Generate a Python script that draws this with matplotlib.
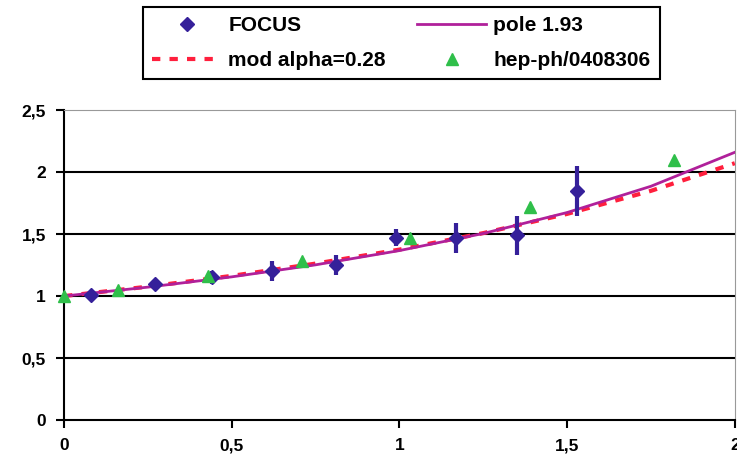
import matplotlib
import matplotlib.pyplot as plt
from matplotlib.lines import Line2D

matplotlib.use("Agg")

# FOCUS data points (q^2, f(q^2)/f(0)) with errors
focus_x = [0.08, 0.27, 0.44, 0.62, 0.81, 0.99, 1.17, 1.35, 1.53]
focus_y = [1.01, 1.10, 1.15, 1.20, 1.25, 1.47, 1.47, 1.49, 1.85]
focus_err = [0.02, 0.03, 0.05, 0.08, 0.08, 0.07, 0.12, 0.16, 0.20]

# hep-ph/0408306 points
hep_x = [0.0, 0.16, 0.43, 0.71, 1.03, 1.39, 1.82]
hep_y = [1.00, 1.05, 1.16, 1.28, 1.47, 1.72, 2.10]

# curves
curve_x = [0.0, 0.25, 0.5, 0.75, 1.0, 1.25, 1.5, 1.75, 2.0]
pole_y = [1.000, 1.072, 1.155, 1.252, 1.367, 1.505, 1.674, 1.886, 2.160]
mod_y = [1.000, 1.076, 1.163, 1.262, 1.375, 1.508, 1.663, 1.849, 2.072]

plt.rcParams["font.family"] = ["Liberation Sans", "DejaVu Sans"]
plt.rcParams["font.weight"] = "bold"

fig = plt.figure(figsize=(7.37, 4.61), dpi=100)
ax = fig.add_axes([0.087, 0.089, 0.91, 0.672])

ax.plot(curve_x, mod_y, color="#ff1f3d", linestyle=(0, (2.0, 2.2)), linewidth=3, zorder=3)
ax.plot(curve_x, pole_y, color="#b0209a", linewidth=2, zorder=4)
ax.errorbar(focus_x, focus_y, yerr=focus_err, fmt="D", color="#35209a",
            markersize=7, elinewidth=3, capsize=0, zorder=5)
ax.plot(hep_x, hep_y, "^", color="#2fbf4a", markersize=9, linestyle="none",
        clip_on=False, zorder=6)

ax.set_xlim(0, 2)
ax.set_ylim(0, 2.5)
ax.set_xticks([0, 0.5, 1, 1.5, 2])
ax.set_xticklabels(["0", "0,5", "1", "1,5", "2"])
ax.set_yticks([0, 0.5, 1, 1.5, 2, 2.5])
ax.set_yticklabels(["0", "0,5", "1", "1,5", "2", "2,5"])
ax.tick_params(labelsize=12.5, direction="out", length=6, width=1.5, pad=7)
for lbl in ax.get_xticklabels() + ax.get_yticklabels():
    lbl.set_fontweight("bold")

for y in [0.5, 1, 1.5, 2]:
    ax.axhline(y, color="black", linewidth=1.5, zorder=1)
ax.spines["left"].set_linewidth(1.5)
ax.spines["bottom"].set_linewidth(1.5)
ax.spines["top"].set_color("#999999")
ax.spines["right"].set_color("#999999")

handles = [
    Line2D([], [], marker="D", color="#35209a", linestyle="none", markersize=7),
    Line2D([], [], color="#ff1f3d", linestyle=(0, (2.0, 2.2)), linewidth=3),
    Line2D([], [], color="#b0209a", linewidth=2),
    Line2D([], [], marker="^", color="#2fbf4a", linestyle="none", markersize=9),
]
labels = ["FOCUS", "mod alpha=0.28", "pole 1.93", "hep-ph/0408306"]
leg = fig.legend(handles, labels, ncol=2, loc="upper left",
                 bbox_to_anchor=(0.194, 0.985), fancybox=False, framealpha=1,
                 edgecolor="black", prop={"size": 15, "weight": "bold"},
                 columnspacing=1.5, handlelength=3.3, handletextpad=0.35,
                 borderpad=0.45, labelspacing=0.75, borderaxespad=0)
leg.get_frame().set_linewidth(1.5)

fig.savefig("out.png", dpi=100)
